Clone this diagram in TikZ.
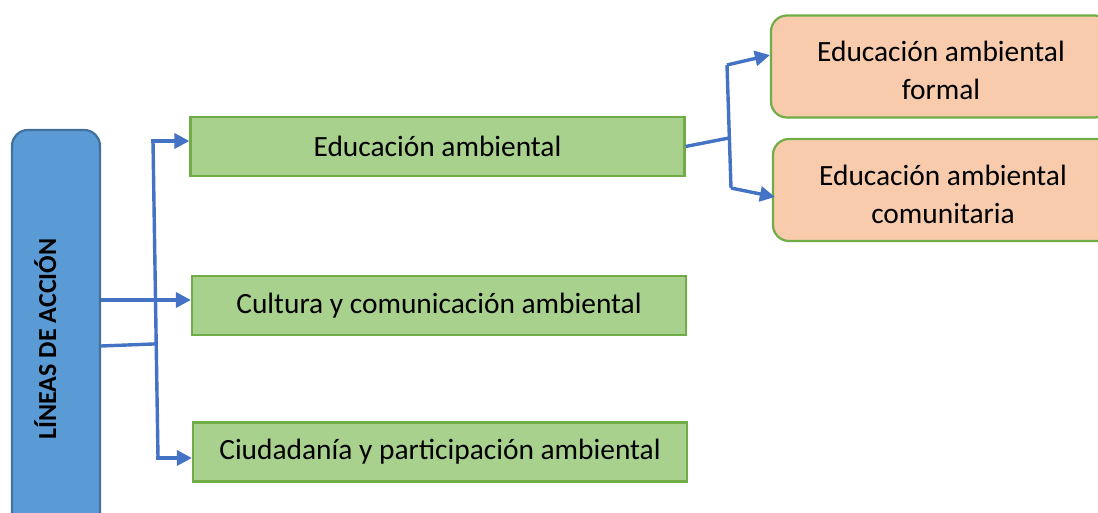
\documentclass[tikz,border=0pt]{standalone}
\usepackage{fontspec}
\setmainfont{Carlito}
\usepackage{tikz}
\usetikzlibrary{arrows.meta,positioning,calc}
\definecolor{azulcaja}{HTML}{5B9BD5}
\definecolor{azulborde}{HTML}{41719C}
\definecolor{verdecaja}{HTML}{A9D18E}
\definecolor{verdeborde}{HTML}{70AD47}
\definecolor{naranjacaja}{HTML}{F8CBAD}
\definecolor{flecha}{HTML}{4472C4}
\tikzset{linea/.style={draw=verdeborde,line width=1.1pt,fill=verdecaja,minimum width=247pt,minimum height=29.5pt,font=\fontsize{14.7}{19}\selectfont},
sub/.style={draw=verdeborde,line width=1.1pt,fill=naranjacaja,rounded corners=8pt,minimum width=170pt,minimum height=51pt,align=center,font=\fontsize{14.7}{19}\selectfont},
conector/.style={draw=flecha,line width=1.7pt},
fl/.style={conector,-{Triangle[length=7.5pt,width=7.5pt]}}}

\begin{document}
\begin{tikzpicture}[x=0.5pt,y=-0.5pt]
\useasboundingbox (0,0) rectangle (1098,513);
\begin{scope}
\clip (0,0) rectangle (1098,513);

\node[draw=azulborde,line width=1.1pt,fill=azulcaja,rounded corners=8pt,rotate=90,minimum width=209pt,minimum height=44pt,text height=8pt,text depth=8pt,font=\fontsize{13}{16}\selectfont\bfseries] (lineas) at (56,339) {LÍNEAS DE ACCIÓN};

\node[linea] (edu) at (437.5,146.5) {Educación ambiental};
\node[linea] (cult) at (439,305.5) {Cultura y comunicación ambiental};
\node[linea] (ciud) at (440,452) {Ciudadanía y participación ambiental};

\node[sub] (formal) at (941,66.5) {\rule{0pt}{14pt}Educación ambiental\\formal};
\node[sub] (comun) at (943,190) {\rule{0pt}{15pt}Educación ambiental\\comunitaria};
\end{scope}

% ramas de la izquierda
\coordinate (t1) at (153,141);
\coordinate (t2) at (158,458);
\coordinate (s1) at (100,300);
\coordinate (s2) at (100,346);
\draw[fl] (lineas.south |- s1) -- (cult.west |- s1);
\draw[conector] (lineas.south |- s2) -- ($(t1)!0.64!(t2)$ |- s2);
\draw[conector] (t1) -- (t2);
\draw[fl] ([xshift=-0.8pt]t1) -- (edu.west |- t1);
\draw[fl] ([xshift=-0.8pt]t2) -- (ciud.west |- t2);

% ramas de la derecha
\coordinate (r1) at (727,65);
\coordinate (r2) at (731,188);
\coordinate (rm) at (729,138);
\draw[conector] (edu.east) -- (rm);
\draw[conector] (r1) -- (r2);
\draw[fl] (r1) -- ([yshift=5.75pt]formal.west);
\draw[fl] (r2) -- ([xshift=1.5pt,yshift=-3.5pt]comun.west);

\end{tikzpicture}
\end{document}
